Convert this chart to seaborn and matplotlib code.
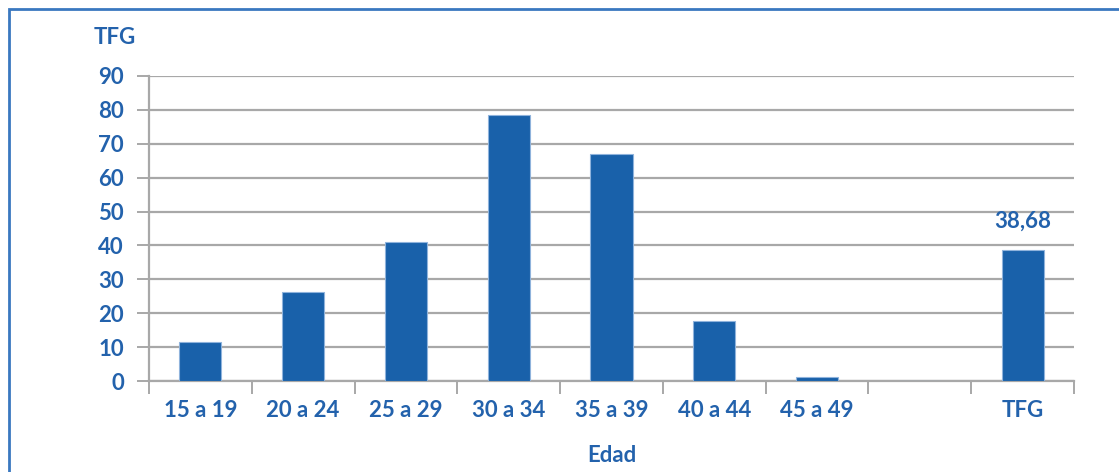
import matplotlib
matplotlib.use("Agg")
import matplotlib.pyplot as plt
from matplotlib.patches import Rectangle
import seaborn as sns
import pandas as pd

categories = ["15 a 19", "20 a 24", "25 a 29", "30 a 34", "35 a 39",
              "40 a 44", "45 a 49", "", "TFG"]
values = [11.6, 26.3, 40.9, 78.5, 66.9, 17.6, 1.1, 0.0, 38.68]
y_ticks = [0, 10, 20, 30, 40, 50, 60, 70, 80, 90]
total_label = "38,68"

BLUE = "#1961aa"
TEXT = "#2362ac"
GRID = "#a8a8a8"
FS = 16

sns.set_theme(style="white")
plt.rcParams["font.family"] = ["Lato", "DejaVu Sans"]

df = pd.DataFrame({"Edad": categories, "TFG": values})

W, H = 1119, 472
fig = plt.figure(figsize=(W / 100, H / 100), dpi=100)
ax = fig.add_axes([149 / W, 1 - 381 / H, (1074 - 149) / W, (381 - 76) / H])

sns.barplot(data=df, x="Edad", y="TFG", order=categories, color=BLUE,
            width=0.41, saturation=1, ax=ax, zorder=3,
            edgecolor="#8fb3dc", linewidth=0.8)

ax.set_ylim(0, 90)
ax.set_xlim(-0.5, len(categories) - 0.5)
ax.set_yticks(y_ticks)
ax.yaxis.grid(True, color=GRID, linewidth=1.6, zorder=0)
ax.set_axisbelow(True)

for side in ["top", "right"]:
    ax.spines[side].set_visible(False)
for side in ["left", "bottom"]:
    ax.spines[side].set_color(GRID)
    ax.spines[side].set_linewidth(1.6)

# Category boundary ticks below the axis
ax.set_xticks([i + 0.5 for i in range(-1, len(categories))], minor=True)
ax.tick_params(axis="x", which="minor", bottom=True, length=9, width=1.4,
               color=GRID)
ax.tick_params(axis="x", which="major", bottom=False, length=0, pad=14,
               labelsize=FS, labelcolor=TEXT)
ax.tick_params(axis="y", left=True, length=9, width=1.4, color=GRID,
               labelsize=FS, labelcolor=TEXT, pad=9)
for lbl in ax.get_xticklabels() + ax.get_yticklabels():
    lbl.set_fontweight("bold")

ax.set_xlabel("Edad", fontsize=FS, fontweight="bold", color=TEXT, labelpad=17)
ax.set_ylabel("")
fig.text(115 / W, 1 - 38 / H, "TFG", ha="center", va="center",
         fontsize=FS, fontweight="bold", color=TEXT)

last = len(categories) - 1
ax.annotate(total_label, xy=(last, values[last]), xytext=(0, 13),
            textcoords="offset points", ha="center", va="bottom",
            fontsize=FS, fontweight="bold", color=TEXT)

# Outer frame of the chart area
fig.patches.append(Rectangle((8.5 / W, -0.1), 1.2, 1 - 8.5 / H + 0.1,
                             transform=fig.transFigure, fill=False,
                             edgecolor="#3a78c0", linewidth=2.0))

fig.savefig("out.png", dpi=100)
